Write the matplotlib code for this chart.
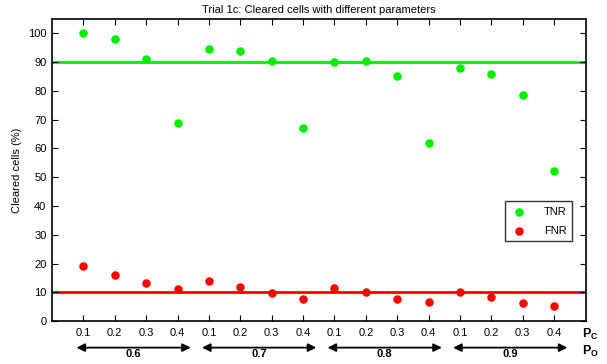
import matplotlib
matplotlib.use("Agg")
import matplotlib.pyplot as plt
import matplotlib.transforms as mtransforms
import numpy as np

plt.rcParams['font.family'] = ['Liberation Sans', 'DejaVu Sans']

# Datos
p_o = ["0.6", "0.7", "0.8", "0.9"]
p_c = ["0.1", "0.2", "0.3", "0.4"]
tnr = [100, 98, 91, 69, 94.7, 94, 90.5, 67, 90, 90.5, 85, 62, 88, 86, 78.5, 52]
fnr = [19, 16, 13.3, 11.3, 14, 12, 9.6, 7.8, 11.5, 10.2, 7.6, 6.6, 10, 8.2, 6.2, 5.2]
tnr_ref = 90
fnr_ref = 10

x = np.arange(1, len(tnr) + 1)

fig = plt.figure(figsize=(6.07, 3.64), dpi=100)
ax = fig.add_axes([0.0857, 0.118, 0.879, 0.830])

ax.axhline(tnr_ref, color="#00ee00", lw=2, zorder=1)
ax.axhline(fnr_ref, color="#ff0000", lw=2, zorder=1)
ax.scatter(x, tnr, s=26, color="#00ee00", label="TNR", zorder=3)
ax.scatter(x, fnr, s=26, color="#ff0000", label="FNR", zorder=3)

ax.set_xlim(0, 17)
ax.set_ylim(0, 105)
ax.set_xticks(x)
ax.set_xticklabels(p_c * len(p_o))
ax.set_yticks(np.arange(0, 101, 10))
ax.tick_params(direction="in", top=True, right=True, labelsize=8, length=4, pad=5)
ax.tick_params(axis="y", pad=4)
for s in ax.spines.values():
    s.set_linewidth(1.2)

ax.set_ylabel("Cleared cells (%)", fontsize=8)
ax.set_title("Trial 1c: Cleared cells with different parameters", fontsize=8, pad=4)

leg = ax.legend(loc="center right", bbox_to_anchor=(0.985, 0.33), fontsize=8,
                fancybox=False, edgecolor="black", handletextpad=1.4,
                handlelength=1.6, borderpad=0.5, labelspacing=0.8, scatterpoints=1)
leg.get_frame().set_linewidth(1.0)

# Flechas de grupos P_O
tr = mtransforms.blended_transform_factory(ax.transData, fig.transFigure)
for i, lab in enumerate(p_o):
    x0 = i * 4 + 0.78
    x1 = i * 4 + 4.42
    ax.annotate("", xy=(x1, 0.045), xytext=(x0, 0.045), xycoords=tr, textcoords=tr,
                arrowprops=dict(arrowstyle="<|-|>", color="black", lw=1.3,
                                mutation_scale=12, shrinkA=0, shrinkB=0),
                annotation_clip=False)
    ax.text((x0 + x1) / 2, 0.028, lab, transform=tr, ha="center", va="center",
            fontsize=8, fontweight="bold")

fig.text(0.958, 0.082, r"P$_\mathregular{C}$", fontsize=9, fontweight="bold", ha="left", va="center")
fig.text(0.958, 0.034, r"P$_\mathregular{O}$", fontsize=9, fontweight="bold", ha="left", va="center")

fig.savefig("out.png", dpi=100)
